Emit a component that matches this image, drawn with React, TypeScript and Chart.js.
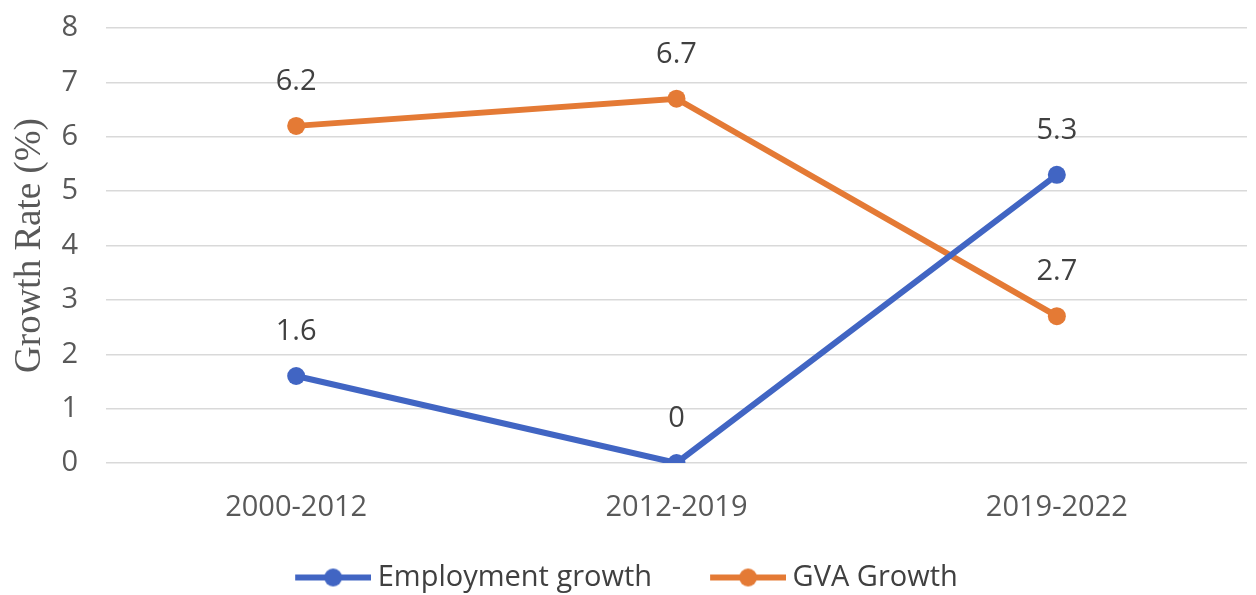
import React, { useEffect, useRef } from "react";
import { Chart, registerables } from "chart.js";

Chart.register(...registerables);

const categories = ["2000-2012", "2012-2019", "2019-2022"];
const employmentGrowth = [1.6, 0, 5.3];
const gvaGrowth = [6.2, 6.7, 2.7];
const seriesNames = ["Employment growth", "GVA Growth"];
const yTicks = [0, 1, 2, 3, 4, 5, 6, 7, 8];
const yTitle = "Growth Rate (%)";

const BLUE = "#4165C3";
const ORANGE = "#E47A35";
const SANS = "'Open Sans', 'Noto Sans', sans-serif";
const MARGIN = 56;

function makeLegendMarker(color: string): HTMLCanvasElement {
  const c = document.createElement("canvas");
  c.width = MARGIN + 76;
  c.height = 20;
  const ctx = c.getContext("2d")!;
  ctx.strokeStyle = color;
  ctx.lineWidth = 6;
  ctx.lineCap = "butt";
  ctx.beginPath();
  ctx.moveTo(MARGIN, 10);
  ctx.lineTo(MARGIN + 76, 10);
  ctx.stroke();
  ctx.fillStyle = color;
  ctx.beginPath();
  ctx.arc(MARGIN + 38, 10, 9, 0, Math.PI * 2);
  ctx.fill();
  return c;
}

const dataLabels = {
  id: "dataLabels",
  afterDatasetsDraw(chart: any) {
    const ctx = chart.ctx;
    ctx.save();
    ctx.font = `29px ${SANS}`;
    ctx.fillStyle = "#404040";
    ctx.textAlign = "center";
    ctx.textBaseline = "middle";
    chart.data.datasets.forEach((ds: any, di: number) => {
      const meta = chart.getDatasetMeta(di);
      meta.data.forEach((pt: any, i: number) => {
        ctx.fillText(String(ds.data[i]), pt.x, pt.y - 44);
      });
    });
    ctx.restore();
  },
};

const legendNudge = {
  id: "legendNudge",
  afterLayout(chart: any) {
    const lg = chart.legend;
    if (lg) {
      lg.top += 7;
      lg.bottom += 7;
      lg.left -= 23;
      lg.right -= 23;
    }
  },
};

export default function App() {
  const ref = useRef<HTMLCanvasElement>(null);
  useEffect(() => {
    const markers = [makeLegendMarker(BLUE), makeLegendMarker(ORANGE)];
    const chart = new Chart(ref.current!, {
      type: "line",
      data: {
        labels: categories,
        datasets: [
          {
            label: seriesNames[0],
            data: employmentGrowth,
            borderColor: BLUE,
            backgroundColor: BLUE,
            borderWidth: 6,
            pointRadius: 9,
            pointBorderWidth: 0,
            pointBackgroundColor: BLUE,
            tension: 0,
          },
          {
            label: seriesNames[1],
            data: gvaGrowth,
            borderColor: ORANGE,
            backgroundColor: ORANGE,
            borderWidth: 6,
            pointRadius: 9,
            pointBorderWidth: 0,
            pointBackgroundColor: ORANGE,
            tension: 0,
          },
        ],
      },
      options: {
        responsive: false,
        animation: false,
        layout: { padding: { top: 28, right: 5, left: 0, bottom: 0 } },
        plugins: {
          tooltip: { enabled: false },
          legend: {
            position: "bottom",
            labels: {
              usePointStyle: true,
              pointStyleWidth: 60 + MARGIN,
              padding: 10,
              color: "#404040",
              font: { family: SANS, size: 29 },
              generateLabels: (chart: any) =>
                chart.data.datasets.map((ds: any, i: number) => ({
                  text: ds.label,
                  fillStyle: ds.borderColor,
                  strokeStyle: ds.borderColor,
                  lineWidth: 0,
                  pointStyle: markers[i],
                  datasetIndex: i,
                  hidden: false,
                  fontColor: "#404040",
                })),
            },
          },
        },
        scales: {
          x: {
            offset: true,
            grid: { display: false, drawTicks: false },
            border: { display: false },
            ticks: {
              padding: 27,
              color: "#595959",
              font: { family: SANS, size: 29 },
            },
            afterFit: (s: any) => {
              s.height = 83;
            },
          },
          y: {
            min: 0,
            max: 8,
            afterBuildTicks: (s: any) => {
              s.ticks = yTicks.map((v) => ({ value: v }));
            },
            grid: { color: "#D9D9D9", lineWidth: 1.5, drawTicks: false },
            border: { display: false },
            ticks: {
              padding: 28,
              color: "#595959",
              font: { family: SANS, size: 29 },
            },
            title: {
              display: true,
              text: yTitle,
              color: "#595959",
              padding: { top: 8, bottom: 0 },
              font: { family: "'Liberation Serif', 'Times New Roman', serif", size: 37, weight: "normal" },
            },
            afterFit: (s: any) => {
              s.width = 106;
              s.paddingTop = 0;
              s.paddingBottom = 0;
            },
          },
        },
      },
      plugins: [dataLabels, legendNudge],
    });
    return () => chart.destroy();
  }, []);
  return (
    <div style={{ position: "absolute", left: 0, top: 0, width: 1256, height: 595, background: "#fff" }}>
      <canvas ref={ref} width={1256} height={595} />
    </div>
  );
}
